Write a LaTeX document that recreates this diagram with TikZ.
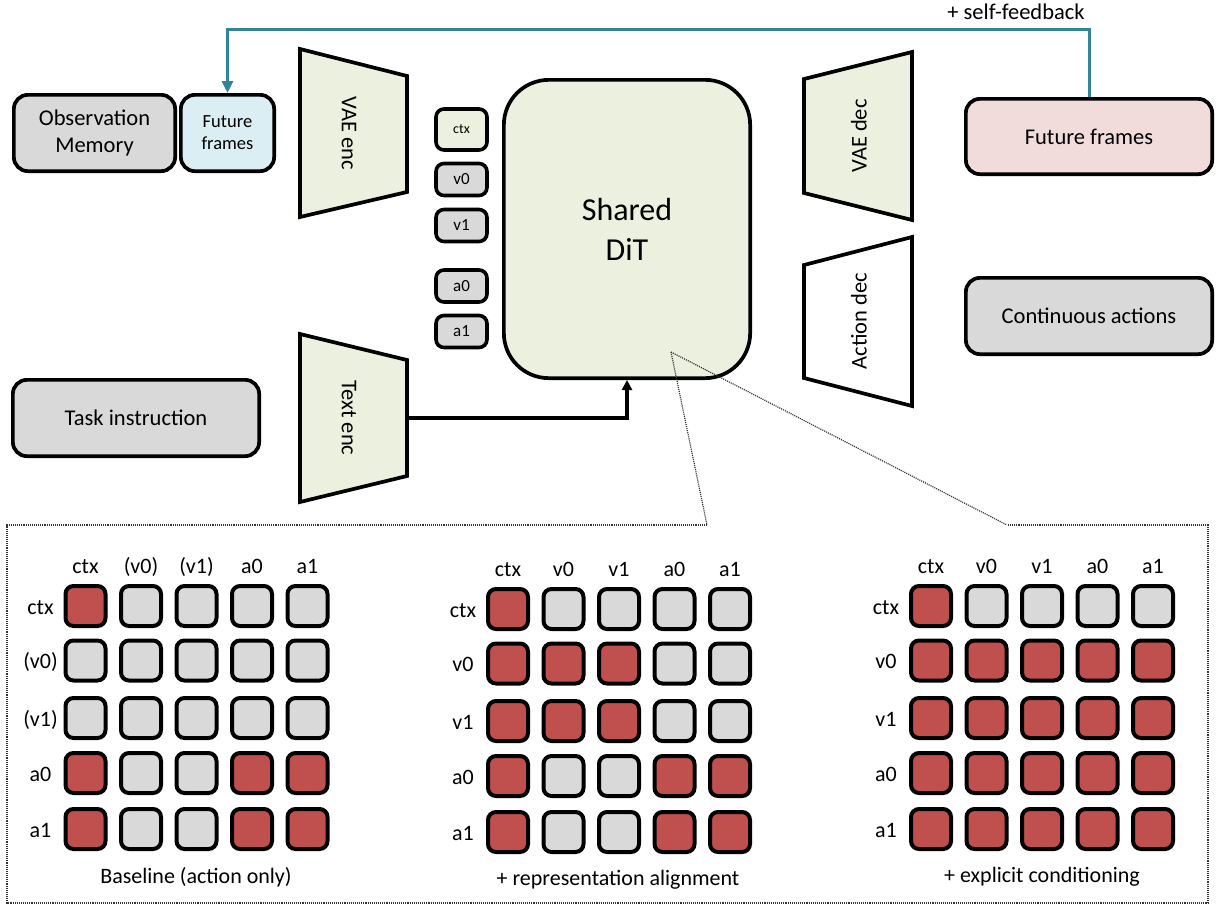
\documentclass[tikz,border=0pt]{standalone}
\usepackage{fontspec}
\setmainfont{Carlito}
\usetikzlibrary{arrows.meta}
\definecolor{cgray}{HTML}{D9D9D9}
\definecolor{colive}{HTML}{EBF1DE}
\definecolor{cblue}{HTML}{DAEEF3}
\definecolor{cpink}{HTML}{F2DCDB}
\definecolor{cred}{HTML}{C0504D}
\definecolor{cteal}{HTML}{31849B}
\begin{document}
\begin{tikzpicture}[x=1pt,y=-1pt,
  box/.style={draw=black, line width=3.7pt, rounded corners=14pt, inner sep=0pt, align=center, font=\fontsize{22.5}{27}\selectfont},
  tok/.style={draw=black, line width=3.6pt, rounded corners=8pt, minimum width=51pt, minimum height=32pt, inner sep=0pt, fill=cgray, font=\fontsize{17}{20}\selectfont},
  cell/.style={draw=black, line width=4pt, rounded corners=8pt, minimum size=40pt, inner sep=0pt},
  mlab/.style={font=\fontsize{22}{26}\selectfont, inner sep=0pt, anchor=base},
  trap/.style={draw=black, line width=3.7pt, line join=miter},
  traplab/.style={font=\fontsize{22.5}{27}\selectfont, inner sep=0pt},
  fb/.style={draw=cteal, line width=3pt, -{Triangle[length=12pt,width=11pt]}},
  dots/.style={draw=black!80, line width=1.2pt, dash pattern=on 1.1pt off 1pt},
]
\useasboundingbox (0,0) rectangle (1221,905);

% left inputs
\node[box, fill=cgray, minimum width=161.3pt, minimum height=76.3pt] (obs) at (94.5,133) {Observation\\Memory};
\node[box, fill=cblue, minimum width=93.3pt, minimum height=76.3pt, font=\fontsize{18.5}{22}\selectfont] (ffb) at (227.5,133) {Future\\frames};
\node[box, fill=cgray, minimum width=246.3pt, minimum height=76.3pt] (task) at (136,418) {Task instruction};

% encoders
\draw[trap, fill=colive] (300,49) -- (407,76) -- (407,192) -- (300,217) -- cycle;
\node[traplab, rotate=-90] (vaeenc) at (349,133) {VAE enc};
\draw[trap, fill=colive] (300,334) -- (407,360) -- (407,476) -- (300,502) -- cycle;
\node[traplab, rotate=-90] (textenc) at (349,418) {Text enc};

% tokens
\node[tok, fill=colive, minimum height=41pt, font=\fontsize{14}{17}\selectfont] (tctx) at (461.5,129.5) {ctx};
\node[tok] (tv0) at (461.5,179.5) {v0};
\node[tok] (tv1) at (461.5,225.5) {v1};
\node[tok] (ta0) at (461.5,286) {a0};
\node[tok] (ta1) at (461.5,331.5) {a1};

% DiT
\node[box, fill=colive, rounded corners=45pt, minimum width=246.3pt, minimum height=298.3pt, font=\fontsize{32}{40}\selectfont] (dit) at (627,229) {Shared\\DiT};

% decoders
\draw[trap, fill=colive] (804,79) -- (912,52) -- (912,220) -- (804,193) -- cycle;
\node[traplab, rotate=90] (vaedec) at (859,136) {VAE dec};
\draw[trap, fill=white] (804,265) -- (912,237) -- (912,406) -- (804,378) -- cycle;
\node[traplab, rotate=90] (actdec) at (859,321) {Action dec};

% outputs
\node[box, fill=cpink, minimum width=246.3pt, minimum height=75.3pt] (ffp) at (1089,136.5) {Future frames};
\node[box, fill=cgray, minimum width=246.3pt, minimum height=76.3pt] (cact) at (1089,316) {Continuous actions};

% connectors
\coordinate (teout) at (407,418);
\draw[line width=3.5pt, -{Triangle[length=10pt,width=10pt]}] (teout) -| (dit.south);
\coordinate (fbtop) at (0,29);
\draw[fb] (ffp.north) -- (ffp.north |- fbtop) -| (ffb.north);
\node[font=\fontsize{22.5}{27}\selectfont] (fblab) at (1016,12) {+ self-feedback};

% callout
\coordinate (zsrc) at (671,352);
\coordinate (pL) at (707,525);
\coordinate (pR) at (1007,525);
\draw[dots] (pL) -- (7,525) -- (7,903) -- (1208,903) -- (1208,525) -- (pR);
\draw[dots] (zsrc) -- (pL);
\draw[dots] (zsrc) -- (pR);

% ---- matrix A: baseline
\foreach \lab [count=\ci from 0] in {ctx,{(v0)},{(v1)},a0,a1}
  \node[mlab] (A-h\ci) at ({85.5+\ci*55.5},573) {\lab};
\foreach \lab/\dy [count=\ri from 0] in {ctx/0,{(v0)}/54.5,{(v1)}/112,a0/167,a1/223}
  \node[mlab] (A-l\ri) at (40.5,{614+\dy}) {\lab};
\foreach \pat/\dy [count=\ri from 0] in {{1,0,0,0,0}/0,{0,0,0,0,0}/54.5,{0,0,0,0,0}/112,{1,0,0,1,1}/167,{1,0,0,1,1}/223} {
  \foreach \v [count=\ci from 0] in \pat {
    \ifnum\v=1 \def\fc{cred}\else\def\fc{cgray}\fi
    \node[cell, fill=\fc] (A-\ri-\ci) at ({85.5+\ci*55.5},{606+\dy}) {};
  }
}
\node[mlab] (A-cap) at (196,883) {Baseline (action only)};

% ---- matrix B: representation alignment
\foreach \lab [count=\ci from 0] in {ctx,v0,v1,a0,a1}
  \node[mlab] (B-h\ci) at ({508+\ci*55.5},576) {\lab};
\foreach \lab/\dy [count=\ri from 0] in {ctx/0,v0/54.5,v1/112,a0/167,a1/223}
  \node[mlab] (B-l\ri) at (463,{617+\dy}) {\lab};
\foreach \pat/\dy [count=\ri from 0] in {{1,0,0,0,0}/0,{1,1,1,0,0}/54.5,{1,1,1,0,0}/112,{1,0,0,1,1}/167,{1,0,0,1,1}/223} {
  \foreach \v [count=\ci from 0] in \pat {
    \ifnum\v=1 \def\fc{cred}\else\def\fc{cgray}\fi
    \node[cell, fill=\fc] (B-\ri-\ci) at ({508+\ci*55.5},{609+\dy}) {};
  }
}
\node[mlab] (B-cap) at (618,885) {+ representation alignment};

% ---- matrix C: explicit conditioning
\foreach \lab [count=\ci from 0] in {ctx,v0,v1,a0,a1}
  \node[mlab] (C-h\ci) at ({931+\ci*55.5},573) {\lab};
\foreach \lab/\dy [count=\ri from 0] in {ctx/0,v0/54.5,v1/112,a0/167,a1/223}
  \node[mlab] (C-l\ri) at (886,{614+\dy}) {\lab};
\foreach \pat/\dy [count=\ri from 0] in {{1,0,0,0,0}/0,{1,1,1,1,1}/54.5,{1,1,1,1,1}/112,{1,1,1,1,1}/167,{1,1,1,1,1}/223} {
  \foreach \v [count=\ci from 0] in \pat {
    \ifnum\v=1 \def\fc{cred}\else\def\fc{cgray}\fi
    \node[cell, fill=\fc] (C-\ri-\ci) at ({931+\ci*55.5},{606+\dy}) {};
  }
}
\node[mlab] (C-cap) at (1042,882) {+ explicit conditioning};

\end{tikzpicture}
\end{document}
